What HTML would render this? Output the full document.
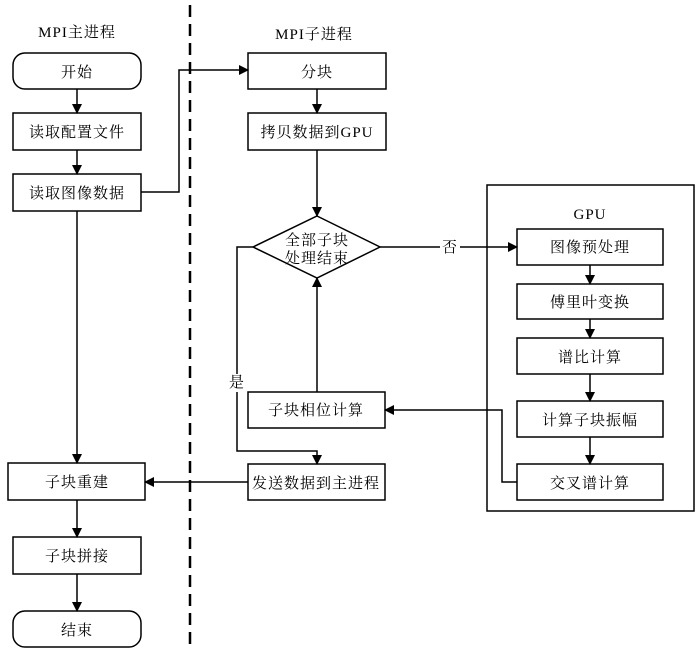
<!DOCTYPE html>
<html><head><meta charset="utf-8"><style>
body{margin:0;background:#fff}
svg text{font-family:"Liberation Serif","Noto Serif CJK SC",serif;font-size:15px;fill:#000;letter-spacing:1px}
</style></head><body>
<svg width="700" height="650" xmlns="http://www.w3.org/2000/svg">
<defs><marker id="a" markerWidth="10" markerHeight="10" refX="9" refY="5" orient="auto" markerUnits="userSpaceOnUse"><path d="M0,0 L10,5 L0,10 z" fill="#000"/></marker></defs>
<g fill="none" stroke="#000" stroke-width="1.5">
<line x1="190" y1="5" x2="190" y2="645" stroke-width="2.5" stroke-dasharray="12,7"/>
<rect x="13" y="53" width="128" height="36" rx="12"/>
<rect x="13" y="113" width="128" height="37"/>
<rect x="13" y="174" width="128" height="37"/>
<rect x="8" y="463" width="137" height="37"/>
<rect x="13" y="537" width="128" height="37"/>
<rect x="13" y="611" width="128" height="36" rx="12"/>
<rect x="248" y="53" width="138" height="36"/>
<rect x="248" y="113" width="138" height="37"/>
<polygon points="317,216 380,247 317,278 253,247"/>
<rect x="248" y="392" width="137" height="36"/>
<rect x="248" y="464" width="137" height="36"/>
<rect x="487" y="185" width="207" height="326"/>
<rect x="517" y="229" width="146" height="36"/>
<rect x="517" y="284" width="146" height="35"/>
<rect x="517" y="338" width="146" height="36"/>
<rect x="517" y="401" width="146" height="36"/>
<rect x="517" y="464" width="146" height="36"/>
<g marker-end="url(#a)">
<line x1="77" y1="89" x2="77" y2="113"/>
<line x1="77" y1="150" x2="77" y2="174"/>
<line x1="77" y1="211" x2="77" y2="463"/>
<line x1="77" y1="500" x2="77" y2="537"/>
<line x1="77" y1="574" x2="77" y2="611"/>
<polyline points="141,192 179,192 179,70 248,70"/>
<line x1="317" y1="89" x2="317" y2="113"/>
<line x1="317" y1="150" x2="317" y2="216"/>
<line x1="317" y1="392" x2="317" y2="278"/>
<polyline points="253,247 237,247 237,451 317,451 317,464"/>
<line x1="248" y1="482" x2="145" y2="482"/>
<line x1="380" y1="247" x2="517" y2="247"/>
<line x1="590" y1="265" x2="590" y2="284"/>
<line x1="590" y1="319" x2="590" y2="338"/>
<line x1="590" y1="374" x2="590" y2="401"/>
<line x1="590" y1="437" x2="590" y2="464"/>
<polyline points="517,482 502,482 502,410 385,410"/>
</g>
</g>
<rect x="440" y="238" width="20" height="18" fill="#fff"/>
<rect x="229" y="374" width="16" height="18" fill="#fff"/>
<g text-anchor="middle">
<text x="77" y="37">MPI主进程</text>
<text x="314" y="39">MPI子进程</text>
<text x="77" y="77">开始</text>
<text x="77" y="137">读取配置文件</text>
<text x="77" y="198">读取图像数据</text>
<text x="77" y="487">子块重建</text>
<text x="77" y="561">子块拼接</text>
<text x="77" y="635">结束</text>
<text x="317" y="77">分块</text>
<text x="317" y="137">拷贝数据到GPU</text>
<text x="317" y="245">全部子块</text>
<text x="317" y="263">处理结束</text>
<text x="316" y="415">子块相位计算</text>
<text x="316" y="488">发送数据到主进程</text>
<text x="450" y="252">否</text>
<text x="237" y="387">是</text>
<text x="590" y="219">GPU</text>
<text x="590" y="252">图像预处理</text>
<text x="590" y="307">傅里叶变换</text>
<text x="590" y="362">谱比计算</text>
<text x="590" y="425">计算子块振幅</text>
<text x="590" y="488">交叉谱计算</text>
</g>
</svg>
</body></html>
